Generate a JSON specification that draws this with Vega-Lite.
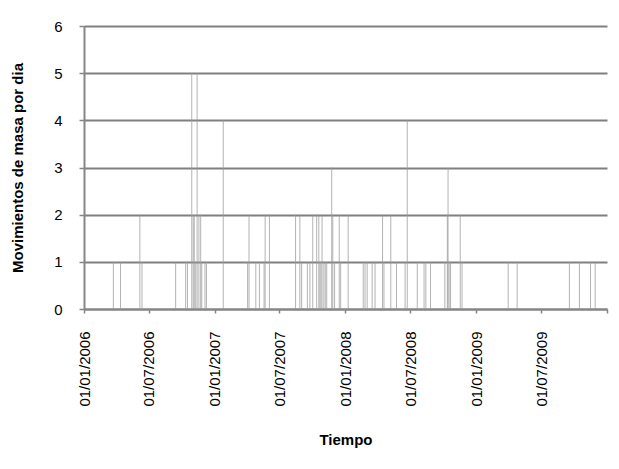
{
  "$schema": "https://vega.github.io/schema/vega-lite/v6.json",
  "width": 523,
  "height": 283,
  "autosize": {"type": "none"},
  "padding": {"left": 84, "top": 26, "right": 12, "bottom": 160},
  "background": "white",
  "config": {"view": {"stroke": null}, "font": "Liberation Sans"},
  "data": {"values": [
    {"fecha": "2006-03-24", "n": 1},
    {"fecha": "2006-04-13", "n": 1},
    {"fecha": "2006-06-06", "n": 2},
    {"fecha": "2006-06-12", "n": 1},
    {"fecha": "2006-09-14", "n": 1},
    {"fecha": "2006-10-12", "n": 1},
    {"fecha": "2006-10-17", "n": 1},
    {"fecha": "2006-10-29", "n": 5},
    {"fecha": "2006-11-02", "n": 2},
    {"fecha": "2006-11-05", "n": 2},
    {"fecha": "2006-11-09", "n": 1},
    {"fecha": "2006-11-13", "n": 5},
    {"fecha": "2006-11-18", "n": 2},
    {"fecha": "2006-11-23", "n": 2},
    {"fecha": "2006-11-26", "n": 1},
    {"fecha": "2006-12-05", "n": 1},
    {"fecha": "2006-12-09", "n": 1},
    {"fecha": "2007-01-25", "n": 4},
    {"fecha": "2007-04-03", "n": 1},
    {"fecha": "2007-04-07", "n": 2},
    {"fecha": "2007-04-26", "n": 1},
    {"fecha": "2007-05-06", "n": 1},
    {"fecha": "2007-05-19", "n": 1},
    {"fecha": "2007-05-22", "n": 2},
    {"fecha": "2007-06-03", "n": 2},
    {"fecha": "2007-08-15", "n": 2},
    {"fecha": "2007-08-27", "n": 2},
    {"fecha": "2007-09-01", "n": 1},
    {"fecha": "2007-09-17", "n": 1},
    {"fecha": "2007-09-24", "n": 1},
    {"fecha": "2007-10-02", "n": 2},
    {"fecha": "2007-10-13", "n": 2},
    {"fecha": "2007-10-19", "n": 2},
    {"fecha": "2007-10-22", "n": 1},
    {"fecha": "2007-10-25", "n": 1},
    {"fecha": "2007-10-28", "n": 2},
    {"fecha": "2007-11-02", "n": 1},
    {"fecha": "2007-11-06", "n": 1},
    {"fecha": "2007-11-10", "n": 1},
    {"fecha": "2007-11-24", "n": 3},
    {"fecha": "2007-11-27", "n": 2},
    {"fecha": "2007-12-02", "n": 1},
    {"fecha": "2007-12-15", "n": 2},
    {"fecha": "2007-12-19", "n": 1},
    {"fecha": "2008-01-09", "n": 2},
    {"fecha": "2008-02-20", "n": 1},
    {"fecha": "2008-02-25", "n": 1},
    {"fecha": "2008-03-02", "n": 1},
    {"fecha": "2008-03-16", "n": 1},
    {"fecha": "2008-03-24", "n": 1},
    {"fecha": "2008-04-14", "n": 2},
    {"fecha": "2008-04-18", "n": 1},
    {"fecha": "2008-05-07", "n": 2},
    {"fecha": "2008-05-23", "n": 1},
    {"fecha": "2008-06-16", "n": 1},
    {"fecha": "2008-06-22", "n": 4},
    {"fecha": "2008-07-20", "n": 1},
    {"fecha": "2008-08-08", "n": 1},
    {"fecha": "2008-08-13", "n": 1},
    {"fecha": "2008-08-26", "n": 1},
    {"fecha": "2008-10-05", "n": 1},
    {"fecha": "2008-10-12", "n": 2},
    {"fecha": "2008-10-14", "n": 3},
    {"fecha": "2008-10-17", "n": 1},
    {"fecha": "2008-10-21", "n": 1},
    {"fecha": "2008-11-17", "n": 2},
    {"fecha": "2008-11-22", "n": 1},
    {"fecha": "2009-03-31", "n": 1},
    {"fecha": "2009-04-25", "n": 1},
    {"fecha": "2009-09-18", "n": 1},
    {"fecha": "2009-10-16", "n": 1},
    {"fecha": "2009-11-16", "n": 1},
    {"fecha": "2009-11-29", "n": 1}
  ]},
  "mark": {"type": "rule", "stroke": "#999999", "strokeWidth": 1, "opacity": 0.75},
  "encoding": {
    "x": {
      "field": "fecha",
      "type": "temporal",
      "scale": {
        "type": "utc",
        "domain": [
          {"year": 2006, "month": 1, "date": 1, "utc": true},
          {"year": 2010, "month": 1, "date": 1, "utc": true}
        ]
      },
      "axis": {
        "values": [
          {"year": 2006, "month": 1, "date": 1, "utc": true},
          {"year": 2006, "month": 7, "date": 1, "utc": true},
          {"year": 2007, "month": 1, "date": 1, "utc": true},
          {"year": 2007, "month": 7, "date": 1, "utc": true},
          {"year": 2008, "month": 1, "date": 1, "utc": true},
          {"year": 2008, "month": 7, "date": 1, "utc": true},
          {"year": 2009, "month": 1, "date": 1, "utc": true},
          {"year": 2009, "month": 7, "date": 1, "utc": true},
          {"year": 2010, "month": 1, "date": 1, "utc": true}
        ],
        "labelExpr": "utcyear(datum.value) == 2010 ? '' : utcFormat(datum.value, '%d/%m/%Y')",
        "labelAngle": 270,
        "labelAlign": "right",
        "labelBaseline": "middle",
        "labelFontSize": 15,
        "labelColor": "#000000",
        "labelPadding": 18,
        "labelOverlap": false,
        "labelFlush": false,
        "tickSize": 4,
        "tickColor": "#868686",
        "tickWidth": 1.5,
        "domainColor": "#868686",
        "domainWidth": 2,
        "grid": false,
        "title": "Tiempo",
        "titleFontSize": 15,
        "titleFontWeight": "bold",
        "titleColor": "#000000",
        "titleY": 130,
        "titleBaseline": "middle"
      }
    },
    "y": {
      "field": "n",
      "type": "quantitative",
      "scale": {"domain": [0, 6], "nice": false},
      "axis": {
        "values": [0, 1, 2, 3, 4, 5, 6],
        "grid": true,
        "gridColor": "#808080",
        "gridWidth": 1.8,
        "labelFontSize": 15,
        "labelColor": "#000000",
        "labelPadding": 17,
        "tickSize": 5,
        "tickColor": "#868686",
        "tickWidth": 1.5,
        "domainColor": "#868686",
        "domainWidth": 2,
        "title": "Movimientos de masa por dia",
        "titleFontSize": 15,
        "titleFontWeight": "bold",
        "titleColor": "#000000",
        "titleAngle": 270,
        "titleX": -67,
        "titleY": 141.5,
        "titleAlign": "center",
        "titleBaseline": "middle"
      }
    },
    "y2": {"datum": 0}
  }
}
